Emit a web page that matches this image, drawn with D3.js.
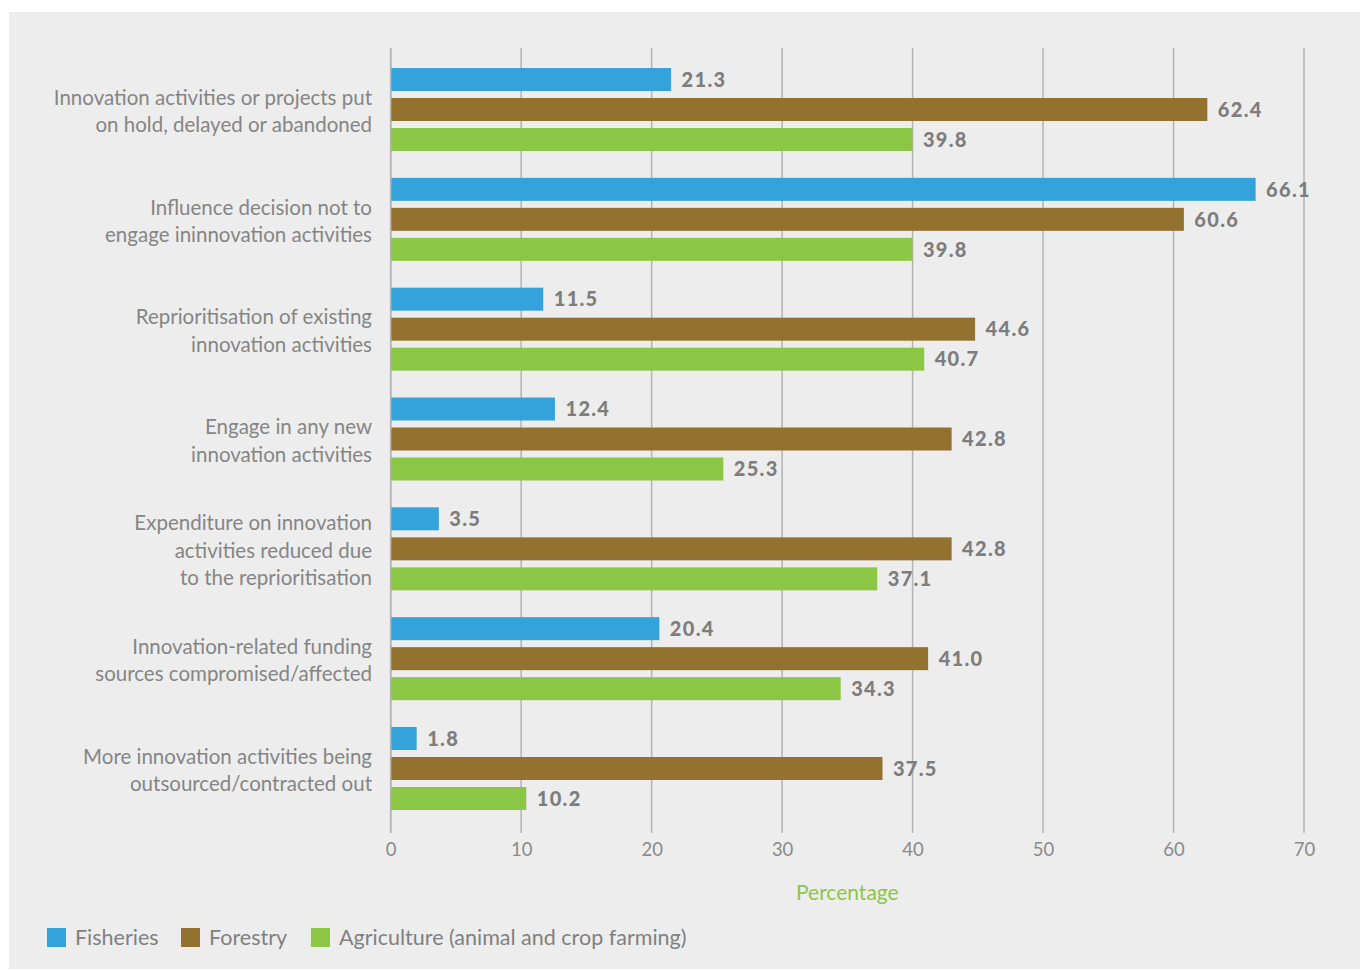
<!DOCTYPE html>
<html>
<head>
<meta charset="utf-8">
<script src="https://cdn.jsdelivr.net/npm/d3@7"></script>
<style>
  html, body { margin: 0; padding: 0; background: #ffffff; }
  svg { display: block; }
</style>
</head>
<body>
<svg id="chart" width="1360" height="971"></svg>
<script>
// Impacts on innovation activities, by sector (percentage of respondents)
const categories = [
  ["Innovation activities or projects put", "on hold, delayed or abandoned"],
  ["Influence decision not to", "engage ininnovation activities"],
  ["Reprioritisation of existing", "innovation activities"],
  ["Engage in any new", "innovation activities"],
  ["Expenditure on innovation", "activities reduced due", "to the reprioritisation"],
  ["Innovation-related funding", "sources compromised/affected"],
  ["More innovation activities being", "outsourced/contracted out"]
];
const seriesNames = ["Fisheries", "Forestry", "Agriculture (animal and crop farming)"];
const fisheries   = [21.3, 66.1, 11.5, 12.4, 3.5, 20.4, 1.8];
const forestry    = [62.4, 60.6, 44.6, 42.8, 42.8, 41.0, 37.5];
const agriculture = [39.8, 39.8, 40.7, 25.3, 37.1, 34.3, 10.2];
const xTicks = [0, 10, 20, 30, 40, 50, 60, 70];
const colors = ["#35a3db", "#93712e", "#8cc645"];

const seriesValues = [fisheries, forestry, agriculture];
const svg = d3.select("#chart");
const textFont = "Lato, 'Open Sans', sans-serif";

// panel background
svg.append("rect")
  .attr("x", 9).attr("y", 12).attr("width", 1351).attr("height", 957)
  .attr("fill", "#ededed");

const x = d3.scaleLinear().domain([0, 70]).range([390.7, 1304]);
const catIdx = d3.range(categories.length);
const y = d3.scaleBand().domain(catIdx).range([54.6, 54.6 + 109.83 * 7]);
const sub = d3.scaleBand()
  .domain(d3.range(seriesNames.length))
  .range([y.bandwidth() / 2 - 45, y.bandwidth() / 2 + 45])
  .paddingInner(7 / 30)
  .paddingOuter(7 / 60);

const gridTop = 48, gridBottom = 833;

// vertical grid lines + tick marks
svg.append("g")
  .selectAll("line")
  .data(xTicks)
  .join("line")
  .attr("x1", d => x(d)).attr("x2", d => x(d))
  .attr("y1", gridTop).attr("y2", gridBottom)
  .attr("stroke", "#b3b3b3")
  .attr("stroke-width", 1.5);

// tick labels
const xAxis = d3.axisBottom(x).tickValues(xTicks).tickSize(0).tickPadding(0)
  .tickFormat(d3.format("d"));
const gx = svg.append("g").attr("transform", `translate(0, ${gridBottom + 10})`).call(xAxis);
gx.select(".domain").remove();
gx.selectAll("text")
  .attr("dy", "0.71em")
  .attr("fill", "#8a8a8a")
  .style("font-family", textFont)
  .style("font-size", "18.5px");

// axis title
svg.append("text")
  .attr("x", (x(0) + x(70)) / 2).attr("y", 900)
  .attr("text-anchor", "middle")
  .attr("fill", "#8cc645")
  .style("font-family", textFont)
  .style("font-size", "21px")
  .text("Percentage");

// bars and value labels
const groups = svg.append("g").selectAll("g")
  .data(catIdx)
  .join("g")
  .attr("transform", i => `translate(0, ${y(i)})`);

groups.each(function (i) {
  const g = d3.select(this);
  seriesValues.forEach((vals, s) => {
    const v = vals[i];
    g.append("rect")
      .attr("x", x(0))
      .attr("y", sub(s))
      .attr("width", x(v) - x(0) + 2.5)
      .attr("height", sub.bandwidth())
      .attr("fill", colors[s]);
    g.append("text")
      .attr("x", x(v) + 13)
      .attr("y", sub(s) + sub.bandwidth() / 2)
      .attr("dy", "0.36em")
      .attr("fill", "#7d7d7d")
      .style("font-family", textFont)
      .style("font-weight", "900")
      .style("font-size", "20px")
      .style("letter-spacing", "1.3px")
      .text(v.toFixed(1));
  });

  // category label
  const lines = categories[i];
  const lh = 27.3;
  const cy = y.bandwidth() / 2 + 1.5;
  const t = g.append("text")
    .attr("text-anchor", "end")
    .attr("fill", "#858585")
    .style("font-family", textFont)
    .style("font-size", "20.5px");
  lines.forEach((ln, k) => {
    t.append("tspan")
      .attr("x", 372)
      .attr("y", cy + (k - (lines.length - 1) / 2) * lh)
      .attr("dy", "0.36em")
      .text(ln);
  });
});

// axis line at zero drawn above bars
svg.append("line")
  .attr("x1", x(0)).attr("x2", x(0))
  .attr("y1", gridTop).attr("y2", gridBottom)
  .attr("stroke", "#b3b3b3").attr("stroke-width", 1.5);

// legend
const legendX = [47, 181, 311];
const legend = svg.append("g").selectAll("g")
  .data(seriesNames)
  .join("g")
  .attr("transform", (d, i) => `translate(${legendX[i]}, 928)`);
legend.append("rect")
  .attr("width", 19).attr("height", 19)
  .attr("fill", (d, i) => colors[i]);
legend.append("text")
  .attr("x", 28).attr("y", 9.5).attr("dy", "0.36em")
  .attr("fill", "#808080")
  .style("font-family", textFont)
  .style("font-size", "21.5px")
  .text(d => d);
</script>
</body>
</html>
